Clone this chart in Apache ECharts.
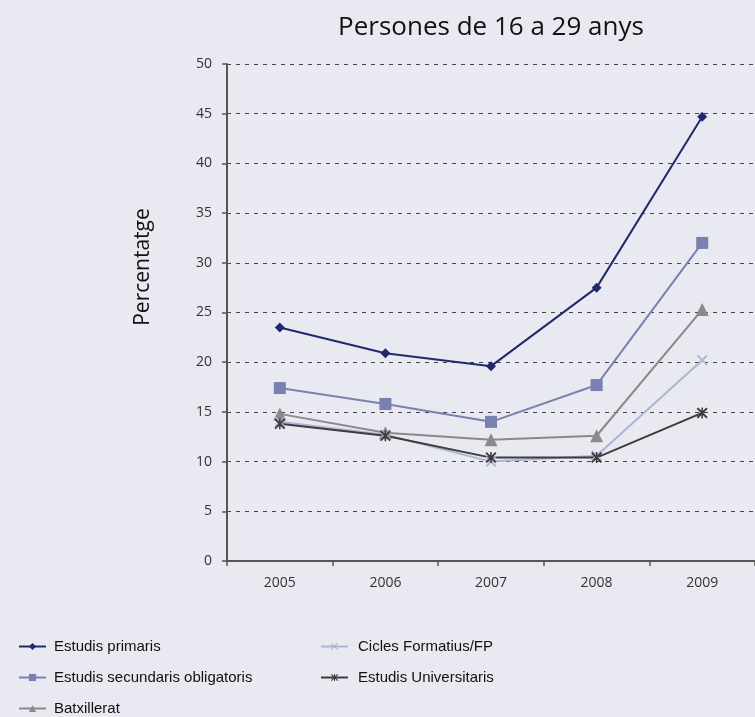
<!DOCTYPE html>
<html><head><meta charset="utf-8">
<script src="https://cdn.jsdelivr.net/npm/echarts@6/dist/echarts.min.js"></script>
<style>html,body{margin:0;padding:0;background:#e9e9f1;}#c{width:755px;height:717px;}</style>
</head><body><div id="c"></div>
<script>
var years = ['2005','2006','2007','2008','2009'];
var primaris = [23.5, 20.9, 19.6, 27.5, 44.7];
var secundaris = [17.4, 15.8, 14.0, 17.7, 32.0];
var batxillerat = [14.8, 12.9, 12.2, 12.6, 25.3];
var cicles = [14.0, 12.7, 10.0, 10.6, 20.2];
var universitaris = [13.8, 12.6, 10.4, 10.4, 14.9];
var seriesNames = ['Estudis primaris','Estudis secundaris obligatoris','Batxillerat','Cicles Formatius/FP','Estudis Universitaris'];
var yName = 'Percentatge';
var titleText = 'Persones de 16 a 29 anys';

var xPath = 'path://M0,1.2L1.2,0L5,3.8L8.8,0L10,1.2L6.2,5L10,8.8L8.8,10L5,6.2L1.2,10L0,8.8L3.8,5Z';
var starPath = 'path://M0,1.2L1.2,0L5,3.8L8.8,0L10,1.2L6.2,5L10,8.8L8.8,10L5,6.2L1.2,10L0,8.8L3.8,5Z M4.3,0L5.7,0L5.7,10L4.3,10Z';

function mk(name, data, color, symbol, size) {
  return {name: name, type: 'line', data: data, symbol: symbol, symbolSize: size,
    showAllSymbol: true, lineStyle: {color: color, width: 2}, itemStyle: {color: color},
    emphasis: {disabled: true}, animation: false};
}
var chart = echarts.init(document.getElementById('c'));
chart.setOption({
  backgroundColor: '#e9e9f1',
  animation: false,
  title: {text: titleText, left: 486, top: 10, textAlign: 'center',
    textStyle: {fontFamily: 'Open Sans', fontSize: 26, fontWeight: 'normal', color: '#111'}},
  graphic: [{type: 'text', x: 143, y: 267, rotation: Math.PI / 2,
    style: {text: yName, fontFamily: 'Open Sans', fontSize: 21, fill: '#111',
      textAlign: 'center', textVerticalAlign: 'middle'}}],
  grid: {left: 227, top: 64, right: -6, bottom: 156},
  xAxis: {type: 'category', data: years, boundaryGap: true,
    axisLine: {lineStyle: {color: '#555', width: 2}},
    axisTick: {show: true, length: 5, lineStyle: {color: '#555', width: 1.5}},
    axisLabel: {fontFamily: 'Open Sans', fontSize: 14, color: '#333', margin: 15}},
  yAxis: {type: 'value', min: 0, max: 50, interval: 5,
    axisLine: {show: true, lineStyle: {color: '#555', width: 2}},
    axisTick: {show: true, length: 5, lineStyle: {color: '#555', width: 1.5}},
    axisLabel: {fontFamily: 'Open Sans', fontSize: 14, color: '#333', margin: 15},
    splitLine: {show: true, lineStyle: {color: '#444', type: [4, 5], width: 1}}},
  legend: [
    {data: [seriesNames[0], seriesNames[1], seriesNames[2]], orient: 'vertical', left: 18, top: 639,
     padding: 0, itemWidth: 27, itemHeight: 9, itemGap: 16,
     textStyle: {fontFamily: 'Liberation Sans', fontSize: 15, color: '#111', padding: [0, 0, 0, 3]}},
    {data: [seriesNames[3], seriesNames[4]], orient: 'vertical', left: 320, top: 639,
     padding: 0, itemWidth: 27, itemHeight: 9, itemGap: 16,
     textStyle: {fontFamily: 'Liberation Sans', fontSize: 15, color: '#111', padding: [0, 0, 0, 5]}}
  ],
  series: [
    mk(seriesNames[0], primaris, '#1f2a6e', 'diamond', 10),
    mk(seriesNames[1], secundaris, '#7a80b0', 'rect', 12),
    mk(seriesNames[2], batxillerat, '#8a8a8a', 'triangle', 13),
    mk(seriesNames[3], cicles, '#b0b4d4', xPath, 11),
    mk(seriesNames[4], universitaris, '#3c3c3c', starPath, 11)
  ]
});
</script></body></html>
